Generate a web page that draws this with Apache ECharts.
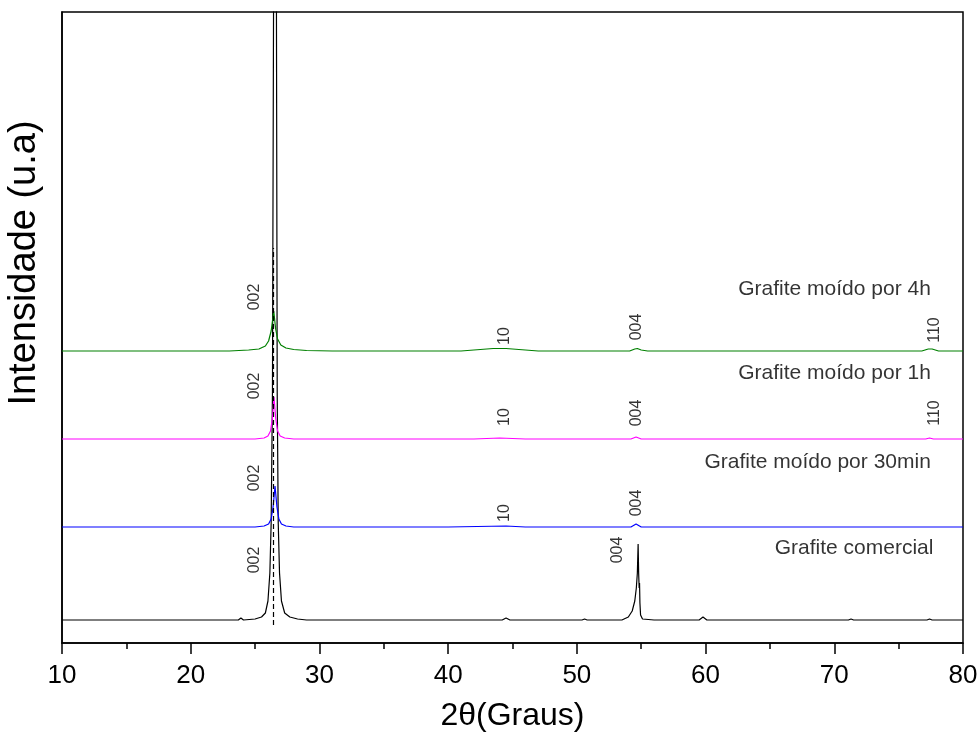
<!DOCTYPE html>
<html>
<head>
<meta charset="utf-8">
<script src="https://cdn.jsdelivr.net/npm/echarts@6/dist/echarts.min.js"></script>
<style>html,body{margin:0;padding:0;background:#fff}#c{width:977px;height:733px}</style>
</head>
<body>
<div id="c"></div>
<script>
// ---- data (2θ in degrees, intensity in arbitrary units; traces are stacked with offsets) ----
const xTicks = [10, 20, 30, 40, 50, 60, 70, 80];

const comercial = [[10,23],[15,23],[20,23],[23.7,23],[23.9,25],[24.1,23],[25.0,24],[25.5,26],[25.8,30],[26.0,42],[26.15,70],[26.25,120],[26.35,250],[26.45,700],[26.55,2500],[26.65,700],[26.72,250],[26.8,120],[26.9,70],[27.05,42],[27.3,30],[27.7,26],[28.3,24],[29,23],[35,23],[42,23],[44.2,23],[44.5,25],[44.8,23],[50.4,23],[50.6,24],[50.8,23],[53.5,23],[54.0,26],[54.3,32],[54.5,42],[54.62,55],[54.7,70],[54.76,99],[54.8,70],[54.84,55],[54.87,60],[54.9,40],[54.95,28],[55.1,24],[56,23],[59.5,23],[59.8,26],[60.1,23],[71.1,23],[71.3,24],[71.5,23],[77.2,23],[77.4,24],[77.6,23],[80,23]];

const moido30min = [[10,116],[20,116],[25.0,116],[25.7,117],[26.05,119],[26.25,124],[26.4,136],[26.55,157],[26.7,136],[26.85,124],[27.05,119],[27.4,117],[28,116],[40,116],[44.5,117],[46,116],[54.2,116],[54.6,119],[55.0,116],[80,116]];

const moido1h = [[10,204],[25.0,204],[25.7,205],[26.0,207],[26.2,212],[26.35,225],[26.47,246],[26.6,225],[26.75,212],[26.95,207],[27.3,205],[28,204],[42,204],[44,205],[46,204],[54.2,204],[54.6,206],[55.0,204],[77.1,204],[77.4,205],[77.7,204],[80,204]];

const moido4h = [[10,292],[23,292],[24.5,293],[25.3,294],[25.8,297],[26.05,302],[26.25,312],[26.45,332],[26.6,314],[26.75,304],[27.0,298],[27.4,295],[28,293.5],[29,292.5],[31,292],[41,292],[42.5,293.5],[43.5,294.5],[44.5,294.5],[45.5,293.5],[47,292],[54.1,292],[54.5,294],[54.7,294.5],[55.0,293],[55.5,292],[76.8,292],[77.3,294],[77.6,294],[78.1,292],[80,292]];

// reflection (hkl) labels: [2θ, intensity, text]
const peakLabels = [
  [25.0,346,'002'],[44.42,307,'10'],[54.67,316,'004'],[77.83,313,'110'],
  [25.0,257,'002'],[44.42,226,'10'],[54.67,230,'004'],[77.83,230,'110'],
  [25.0,165,'002'],[44.42,130,'10'],[54.67,140,'004'],
  [25.0,83,'002'],[53.2,93,'004']
];
// sample names: [2θ (right end), intensity, text]
const sampleLabels = [
  [77.5,354,'Grafite moído por 4h'],
  [77.5,270,'Grafite moído por 1h'],
  [77.5,181,'Grafite moído por 30min'],
  [77.7,95,'Grafite comercial']
];
// dashed reference line at 2θ of graphite (002)
const refLine = [[26.4,18],[26.4,395]];

const FONT = 'Liberation Sans, Arial, sans-serif';
const chart = echarts.init(document.getElementById('c'), null, {renderer:'canvas'});

function lineSeries(data, color){
  return {type:'line', data:data, showSymbol:false, symbol:'none', clip:true,
    lineStyle:{color:color, width:1.2}, itemStyle:{color:color}, animation:false, z:3};
}

const black = lineSeries(comercial, '#000000');
black.markLine = {silent:true, symbol:['none','none'], animation:false,
  lineStyle:{color:'#000', type:[5,3], width:1.2},
  label:{show:false},
  data:[[{coord:refLine[0]},{coord:refLine[1]}]]};

chart.setOption({
  animation:false,
  backgroundColor:'#fff',
  grid:{left:62, right:14, top:12, bottom:90, containLabel:false, outerBoundsMode:'none',
    show:true, borderColor:'#000', borderWidth:1.5, backgroundColor:'transparent'},
  xAxis:{type:'value', min:10, max:80, interval:10,
    name:'2θ(Graus)', nameLocation:'middle', nameGap:57,
    nameTextStyle:{fontFamily:FONT, fontSize:32, color:'#000'},
    axisLine:{show:true, lineStyle:{color:'#000', width:1.5}},
    axisTick:{show:true, inside:false, length:11, lineStyle:{color:'#000', width:1.5}},
    minorTick:{show:true, splitNumber:2, length:6, lineStyle:{color:'#000', width:1.5}},
    splitLine:{show:false},
    axisLabel:{fontFamily:FONT, fontSize:26, color:'#000', margin:20,
      formatter:function(v){return xTicks.indexOf(v)>=0 ? String(v) : '';}}
  },
  yAxis:{type:'value', min:0, max:631, show:true,
    axisLine:{show:true, lineStyle:{color:'#000', width:1.5}},
    axisTick:{show:false}, axisLabel:{show:false}, splitLine:{show:false}},
  graphic:[{type:'text', x:25, y:263, rotation:Math.PI/2,
    style:{text:'Intensidade (u.a)', fontFamily:FONT, fontSize:38, fill:'#000', align:'center', verticalAlign:'middle'}}],
  series:[
    black,
    lineSeries(moido30min, '#0000ff'),
    lineSeries(moido1h, '#ff00ff'),
    lineSeries(moido4h, '#008000'),
    {type:'scatter', symbolSize:0, animation:false, silent:true, z:5,
      data:peakLabels.map(p=>({value:[p[0],p[1]], name:p[2]})),
      label:{show:true, position:'inside', rotate:90, fontFamily:FONT, fontSize:16, color:'#000',
        formatter:function(p){return p.name;}}},
    {type:'scatter', symbolSize:0, animation:false, silent:true, z:5,
      data:sampleLabels.map(p=>({value:[p[0],p[1]], name:p[2]})),
      label:{show:true, position:'left', distance:0, fontFamily:FONT, fontSize:21, color:'#000',
        formatter:function(p){return p.name;}}}
  ]
});
</script>
</body>
</html>
